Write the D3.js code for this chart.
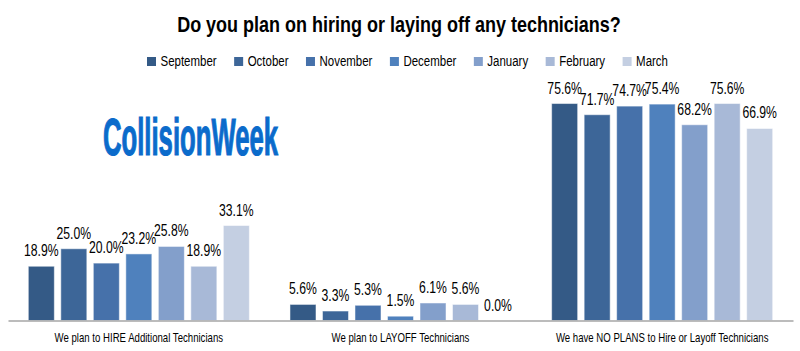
<!DOCTYPE html>
<html>
<head>
<meta charset="utf-8">
<script src="https://cdn.jsdelivr.net/npm/d3@7"></script>
<style>
  html, body { margin: 0; padding: 0; background: #fff; }
  svg text { font-family: "Liberation Sans", Arial, sans-serif; }
</style>
</head>
<body>
<svg id="chart" width="800" height="351"></svg>
<script>
const categories = [
  "We plan to HIRE Additional Technicians",
  "We plan to LAYOFF Technicians",
  "We have NO PLANS to Hire or Layoff Technicians"
];
const months = ["September", "October", "November", "December", "January", "February", "March"];
const colors = ["#345A86", "#3D6698", "#4671AA", "#4F81BD", "#839FCB", "#A8B9D7", "#C4CFE2"];
const hireValues = [18.9, 25.0, 20.0, 23.2, 25.8, 18.9, 33.1];
const layoffValues = [5.6, 3.3, 5.3, 1.5, 6.1, 5.6, 0.0];
const noPlanValues = [75.6, 71.7, 74.7, 75.4, 68.2, 75.6, 66.9];
const seriesByCategory = [hireValues, layoffValues, noPlanValues];
const title = "Do you plan on hiring or laying off any technicians?";

const svg = d3.select("#chart");
const baseY = 320.5;

// condensed text helper: horizontal compression of a real text element
function ctext(parent, x, y, str, size, weight, sx, anchor) {
  const g = parent.append("g").attr("transform", `translate(${x},${y}) scale(${sx},1)`);
  const t = g.append("text").attr("x", 0).attr("y", 0)
    .attr("font-size", size).attr("font-weight", weight || "normal")
    .attr("text-anchor", anchor || "start").attr("fill", "#000").text(str);
  return t;
}

const x0 = d3.scaleBand().domain(categories).range([8, 793]).paddingInner(0).paddingOuter(0);
const x1 = d3.scaleBand().domain(months).range([0, x0.bandwidth()]).paddingInner(0.2).paddingOuter(0.625);
const y = d3.scaleLinear().domain([0, 100]).range([baseY, baseY - 287]);
const color = d3.scaleOrdinal().domain(months).range(colors);

const SX_TITLE = 0.8, SX_LABEL = 0.74, SX_CAT = 0.74, SX_LEG = 0.82;

// title
ctext(svg, 399, 32, title, 22.5, "bold", SX_TITLE, "middle");

// legend
let lx = 147;
months.forEach((m, i) => {
  svg.append("rect").attr("x", lx).attr("y", 57).attr("width", 9).attr("height", 9).attr("fill", colors[i]);
  const t = ctext(svg, lx + 13.5, 66, m, 14, "normal", SX_LEG, "start");
  lx += 13.5 + t.node().getComputedTextLength() * SX_LEG + 17.5;
});

// logo
svg.append("text").attr("x", 103).attr("y", 155)
  .attr("font-size", 51).attr("font-weight", "bold").attr("fill", "#0B6BCB")
  .attr("stroke", "#0B6BCB").attr("stroke-width", 1.2)
  .attr("textLength", 175).attr("lengthAdjust", "spacingAndGlyphs")
  .text("CollisionWeek");

// bars
const groups = svg.selectAll("g.cat").data(categories).enter().append("g")
  .attr("class", "cat").attr("transform", d => `translate(${x0(d)},0)`);

groups.each(function(cat, ci) {
  const g = d3.select(this);
  const vals = months.map((m, i) => ({ month: m, value: seriesByCategory[ci][i] }));
  g.selectAll("rect").data(vals).enter().append("rect")
    .attr("x", d => x1(d.month)).attr("width", x1.bandwidth())
    .attr("y", d => y(d.value)).attr("height", d => baseY - y(d.value))
    .attr("fill", d => color(d.month))
    .attr("stroke", "#fff").attr("stroke-opacity", 0.5).attr("stroke-width", 1);
  vals.forEach(d => {
    ctext(g, x1(d.month) + x1.bandwidth() / 2, y(d.value) - 10, d.value.toFixed(1) + "%", 16.5, "normal", SX_LABEL, "middle");
  });
  ctext(g, x0.bandwidth() / 2, 342, cat, 13, "normal", SX_CAT, "middle");
});

// axis
const axis = svg.append("g").attr("transform", `translate(0,${baseY})`)
  .call(d3.axisBottom(x0).tickSize(0).tickFormat(""));
axis.select(".domain").attr("stroke", "#A6A6A6").attr("stroke-width", 1.5);
</script>
</body>
</html>
